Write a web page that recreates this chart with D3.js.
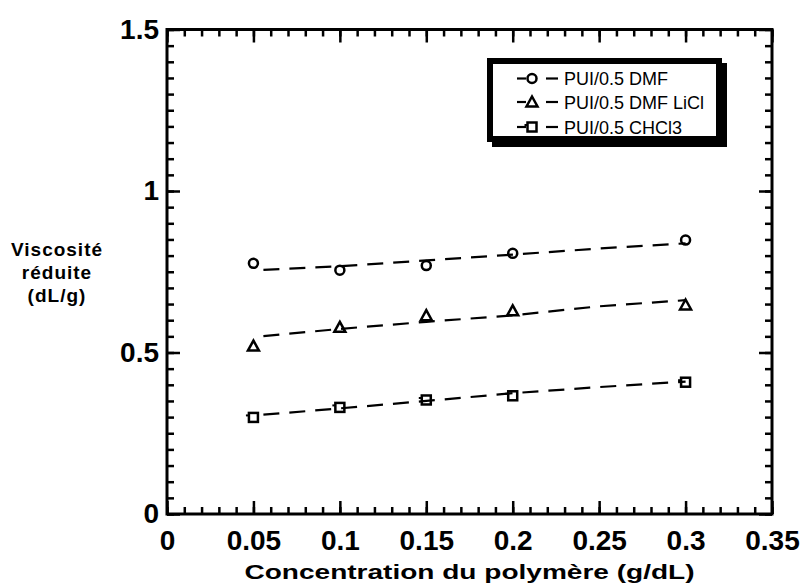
<!DOCTYPE html>
<html>
<head>
<meta charset="utf-8">
<script src="https://cdn.jsdelivr.net/npm/d3@7"></script>
<style>
  html, body { margin: 0; padding: 0; background: #fff; }
  svg { display: block; font-family: "Liberation Sans", Arial, sans-serif; }
</style>
</head>
<body>
<svg id="chart" width="804" height="587"></svg>
<script>
// ---- data ----
const concentrations = [0.05, 0.1, 0.15, 0.2, 0.3];
const dmf      = [0.776, 0.755, 0.769, 0.807, 0.848];
const dmfLiCl  = [0.520, 0.578, 0.614, 0.629, 0.647];
const chcl3    = [0.299, 0.330, 0.353, 0.366, 0.408];

const fitX        = [0.05, 0.1, 0.15, 0.2, 0.25, 0.3];
const dmfFit      = [0.754, 0.767, 0.785, 0.803, 0.822, 0.838];
const dmfLiClFit  = [0.548, 0.573, 0.595, 0.615, 0.643, 0.662];
const chcl3Fit    = [0.305, 0.327, 0.350, 0.374, 0.393, 0.410];

const seriesNames = ["PUI/0.5 DMF", "PUI/0.5 DMF LiCl", "PUI/0.5 CHCl3"];
const seriesSymbols = ["circle", "triangle", "square"];

const xTickValues = [0, 0.05, 0.1, 0.15, 0.2, 0.25, 0.3, 0.35];
const xTickLabels = ["0", "0.05", "0.1", "0.15", "0.2", "0.25", "0.3", "0.35"];
const yTickValues = [0, 0.5, 1, 1.5];
const yTickLabels = ["0", "0.5", "1", "1.5"];
const xMinorStep = 0.01, yMinorStep = 0.05;

const xTitle = "Concentration du polymère (g/dL)";
const yTitleLines = ["Viscosité", "réduite", "(dL/g)"];

// ---- layout ----
const svg = d3.select("#chart");
const L = 167, R = 772, T = 29.5, B = 514;
const x = d3.scaleLinear().domain([0, 0.35]).range([L, R]);
const y = d3.scaleLinear().domain([0, 1.5]).range([B, T]);

const xMinor = d3.range(0, 0.35 + 1e-9, xMinorStep).map(v => +v.toFixed(3));
const yMinor = d3.range(0, 1.5 + 1e-9, yMinorStep).map(v => +v.toFixed(3));

const minorLen = 7, majorLen = 13;

function styleAxis(g) {
  g.select(".domain").remove();
  g.selectAll(".tick line").attr("stroke", "#000").attr("stroke-width", 2.5);
}

// bottom
svg.append("g").attr("transform", `translate(0,${B})`)
  .call(d3.axisBottom(x).tickValues(xMinor).tickSize(-minorLen).tickFormat(""))
  .call(styleAxis);
svg.append("g").attr("transform", `translate(0,${B})`)
  .call(d3.axisBottom(x).tickValues(xTickValues).tickSize(-majorLen).tickPadding(14)
        .tickFormat((d, i) => xTickLabels[i]))
  .call(styleAxis)
  .call(g => g.selectAll("text").attr("fill", "#000").attr("font-size", 28)
        .attr("font-weight", "bold").attr("y", 36).attr("dy", null));
// top
svg.append("g").attr("transform", `translate(0,${T})`)
  .call(d3.axisTop(x).tickValues(xMinor).tickSize(-minorLen).tickFormat(""))
  .call(styleAxis);
svg.append("g").attr("transform", `translate(0,${T})`)
  .call(d3.axisTop(x).tickValues(xTickValues).tickSize(-majorLen).tickFormat(""))
  .call(styleAxis);
// left
svg.append("g").attr("transform", `translate(${L},0)`)
  .call(d3.axisLeft(y).tickValues(yMinor).tickSize(-minorLen).tickFormat(""))
  .call(styleAxis);
svg.append("g").attr("transform", `translate(${L},0)`)
  .call(d3.axisLeft(y).tickValues(yTickValues).tickSize(-majorLen).tickPadding(8)
        .tickFormat((d, i) => yTickLabels[i]))
  .call(styleAxis)
  .call(g => g.selectAll("text").attr("fill", "#000").attr("font-size", 28)
        .attr("font-weight", "bold"));
// right
svg.append("g").attr("transform", `translate(${R},0)`)
  .call(d3.axisRight(y).tickValues(yMinor).tickSize(-minorLen).tickFormat(""))
  .call(styleAxis);
svg.append("g").attr("transform", `translate(${R},0)`)
  .call(d3.axisRight(y).tickValues(yTickValues).tickSize(-majorLen).tickFormat(""))
  .call(styleAxis);

// frame
svg.append("rect").attr("x", L).attr("y", T).attr("width", R - L).attr("height", B - T)
  .attr("fill", "none").attr("stroke", "#000").attr("stroke-width", 3);

// axis titles
svg.append("text").attr("x", (L + R) / 2 - 450 / 2).attr("y", 579)
  .attr("textLength", 450).attr("lengthAdjust", "spacingAndGlyphs")
  .attr("font-size", 21).attr("font-weight", "bold").text(xTitle);
const yt = svg.append("text").attr("text-anchor", "middle").attr("font-size", 19)
  .attr("font-weight", "bold").attr("letter-spacing", 1);
yTitleLines.forEach((s, i) => {
  yt.append("tspan").attr("x", 57).attr("y", 256 + i * 23).text(s);
});

// ---- series ----
const series = [
  { vals: dmf, fit: dmfFit, sym: "circle" },
  { vals: dmfLiCl, fit: dmfLiClFit, sym: "triangle" },
  { vals: chcl3, fit: chcl3Fit, sym: "square" }
];

function drawSymbol(g, sym, cx, cy) {
  if (sym === "circle") {
    g.append("circle").attr("cx", cx).attr("cy", cy).attr("r", 4.5)
      .attr("fill", "none").attr("stroke", "#000").attr("stroke-width", 2.5);
  } else if (sym === "triangle") {
    g.append("path").attr("d", `M${cx - 5.5},${cy + 4.5}L${cx + 5.5},${cy + 4.5}L${cx},${cy - 5.5}Z`)
      .attr("fill", "none").attr("stroke", "#000").attr("stroke-width", 2.5);
  } else {
    g.append("rect").attr("x", cx - 4.5).attr("y", cy - 4.5).attr("width", 9).attr("height", 9)
      .attr("fill", "none").attr("stroke", "#000").attr("stroke-width", 2.5);
    g.append("line").attr("x1", cx - 7.5).attr("x2", cx - 4.5).attr("y1", cy - 2).attr("y2", cy - 2)
      .attr("stroke", "#000").attr("stroke-width", 2);
  }
}

const lineGen = d3.line().x(d => x(d[0])).y(d => y(d[1]));
const plot = svg.append("g");
series.forEach(s => {
  plot.append("path").datum(fitX.map((v, i) => [v, s.fit[i]]))
    .attr("d", lineGen).attr("fill", "none").attr("stroke", "#000")
    .attr("stroke-width", 2.2).attr("stroke-dasharray", "16,10").attr("stroke-dashoffset", 16);
  concentrations.forEach((c, i) => drawSymbol(plot, s.sym, x(c), y(s.vals[i])));
});

// ---- legend ----
const lg = svg.append("g");
lg.append("rect").attr("x", 492).attr("y", 63).attr("width", 235).attr("height", 84).attr("fill", "#000");
lg.append("rect").attr("x", 490).attr("y", 61).attr("width", 229).attr("height", 78)
  .attr("fill", "#fff").attr("stroke", "#000").attr("stroke-width", 6);
const rowY = [78.5, 102, 127];
seriesNames.forEach((name, i) => {
  const cy = rowY[i];
  lg.append("line").attr("x1", 517).attr("x2", 526).attr("y1", cy).attr("y2", cy)
    .attr("stroke", "#000").attr("stroke-width", 2.2);
  lg.append("line").attr("x1", 546).attr("x2", 558).attr("y1", cy).attr("y2", cy)
    .attr("stroke", "#000").attr("stroke-width", 2.2);
  drawSymbol(lg, seriesSymbols[i], 532, cy);
  lg.append("text").attr("x", 564).attr("y", cy + 6.5).attr("font-size", 18).text(name);
});
</script>
</body>
</html>
